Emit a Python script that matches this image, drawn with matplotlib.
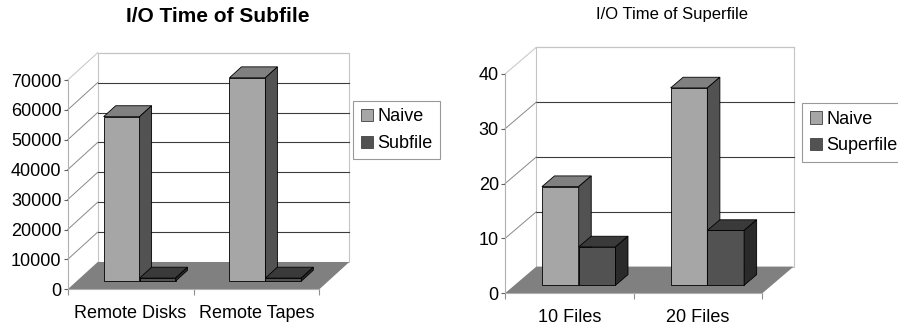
import matplotlib
matplotlib.use('Agg')
import matplotlib.pyplot as plt
from matplotlib.patches import Polygon, Rectangle, Patch

plt.rcParams['font.family'] = ['Liberation Sans', 'DejaVu Sans']

# data
sub_categories = ['Remote Disks', 'Remote Tapes']
sub_naive = [55000, 68000]
sub_subfile = [1000, 1000]
sub_ticks = [0, 10000, 20000, 30000, 40000, 50000, 60000, 70000]

sup_categories = ['10 Files', '20 Files']
sup_naive = [18, 36]
sup_superfile = [7, 10]
sup_ticks = [0, 10, 20, 30, 40]

# fake 3d look (excel style)
floor_c = '#808080'
light_face = ('#a6a6a6', '#808080', '#525252')   # front, top, side
dark_face = ('#525252', '#3a3a3a', '#2a2a2a')
wall_edge = '#c4c4c4'
grid_c = '#3c3c3c'
f0, f1 = 0.3, 0.7          # bar depth inside the floor
bw = 1 / 3.5               # excel gap width 150%


def bar3d(ax, x, w, h, ddx, ddy, colors):
    front, top, side = colors
    x0 = x + f0 * ddx
    y0 = f0 * ddy
    ox = (f1 - f0) * ddx
    oy = (f1 - f0) * ddy
    ax.bar(x0, h, width=w, bottom=y0, align='edge', color=front,
           edgecolor='black', linewidth=0.6, clip_on=False, zorder=5)
    ax.add_patch(Polygon([(x0, y0 + h), (x0 + w, y0 + h), (x0 + w + ox, y0 + h + oy),
                          (x0 + ox, y0 + h + oy)], closed=True, facecolor=top,
                         edgecolor='black', linewidth=0.6, clip_on=False, zorder=5))
    ax.add_patch(Polygon([(x0 + w, y0), (x0 + w + ox, y0 + oy), (x0 + w + ox, y0 + h + oy),
                          (x0 + w, y0 + h)], closed=True, facecolor=side,
                         edgecolor='black', linewidth=0.6, clip_on=False, zorder=5))


def chart(ax, cats, s1, s2, ticks, ddx, ddy):
    n = len(cats)
    ymax = ticks[-1]
    ax.set_xlim(0, n)
    ax.set_ylim(0, ymax)
    # back wall + side wall
    ax.add_patch(Rectangle((ddx, ddy), n, ymax, facecolor='white', edgecolor=wall_edge,
                           linewidth=0.8, clip_on=False, zorder=0))
    for v in ticks[1:]:
        c = wall_edge if v == ymax else grid_c
        ax.plot([ddx, n + ddx], [v + ddy, v + ddy], color=c, lw=0.8, clip_on=False, zorder=1)
        ax.plot([0, ddx], [v, v + ddy], color='#888888' if v != ymax else wall_edge,
                lw=0.7, clip_on=False, zorder=1)
    # floor
    ax.add_patch(Polygon([(0, 0), (n, 0), (n + ddx, ddy), (ddx, ddy)], closed=True,
                         facecolor=floor_c, edgecolor='none', clip_on=False, zorder=2))
    for i in range(n):
        c = i + 0.5
        bar3d(ax, c - bw, bw, s1[i], ddx, ddy, light_face)
        bar3d(ax, c, bw, s2[i], ddx, ddy, dark_face)

    ax.set_facecolor('none')
    for s in ['top', 'right']:
        ax.spines[s].set_visible(False)
    for s in ['left', 'bottom']:
        ax.spines[s].set_color('#b0b0b0')
        ax.spines[s].set_linewidth(0.8)
        ax.spines[s].set_zorder(3)
    ax.set_yticks(ticks)
    ax.set_yticklabels([str(t) for t in ticks], fontsize=13)
    ax.tick_params(axis='y', length=3, width=0.8, color='#606060', pad=1.5)
    ax.set_xticks(range(n + 1))
    ax.set_xticklabels([])
    ax.tick_params(axis='x', which='major', length=4, width=0.8, color='#909090')
    ax.set_xticks([i + 0.5 for i in range(n)], minor=True)
    ax.set_xticklabels(cats, minor=True, fontsize=13)
    ax.tick_params(axis='x', which='minor', length=0, pad=11)


fig = plt.figure(figsize=(8.98, 3.27), dpi=100)
W, H = 898, 327

ax1 = fig.add_axes([67.7 / W, (H - 289.3) / H, 251.6 / W, 209.3 / H])
chart(ax1, sub_categories, sub_naive, sub_subfile, sub_ticks, 30 / 125.8, 27.3 / 29.9 * 10000)
fig.text(218 / W, 1 - 16 / H, 'I/O Time of Subfile', ha='center', va='center',
         fontsize=15, fontweight='bold')

ax2 = fig.add_axes([505 / W, (H - 293.3) / H, 257.3 / W, 219.3 / H])
chart(ax2, sup_categories, sup_naive, sup_superfile, sup_ticks, 31.3 / 128.65, 26.7 / 5.4825)
fig.text(672 / W, 1 - 15 / H, 'I/O Time of Superfile', ha='center', va='center', fontsize=12)


def legend(labels, x, y):
    handles = [Patch(facecolor=light_face[0], edgecolor='#404040', linewidth=0.6, label=labels[0]),
               Patch(facecolor=dark_face[0], edgecolor='#404040', linewidth=0.6, label=labels[1])]
    lg = fig.legend(handles=handles, loc='upper left', bbox_to_anchor=(x / W, 1 - y / H),
                    fontsize=13, frameon=True, fancybox=False, handlelength=0.7,
                    handleheight=0.7, handletextpad=0.25, borderpad=0.4, labelspacing=0.55,
                    borderaxespad=0)
    lg.get_frame().set_edgecolor('#808080')
    lg.get_frame().set_linewidth(0.8)


legend(['Naive', 'Subfile'], 353.3, 101)
legend(['Naive', 'Superfile'], 802.3, 103.3)

fig.savefig('out.png', dpi=100)
